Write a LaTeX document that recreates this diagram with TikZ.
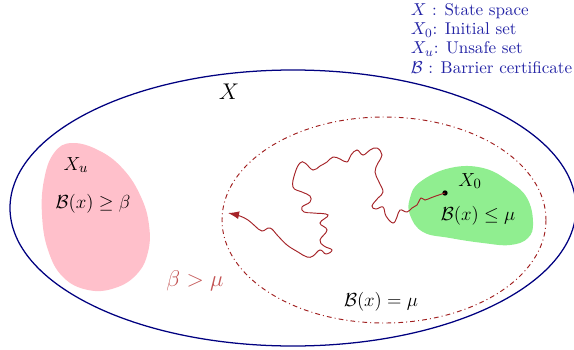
\documentclass[tikz,border=0pt]{standalone}
\usepackage{amsmath,amssymb}
\usepackage{xcolor}
\usepackage{tikz}
\usetikzlibrary{
  arrows.meta,
  positioning,
  calc
}
\definecolor{setblue}{RGB}{0,0,128}
\definecolor{legendblue}{RGB}{35,35,165}
\definecolor{levelred}{RGB}{160,30,30}
\definecolor{walkred}{RGB}{165,35,40}
\definecolor{unsafepink}{RGB}{255,192,203}
\definecolor{initgreen}{RGB}{144,238,144}
\definecolor{gapred}{RGB}{195,85,85}
\newcommand{\Bc}{\mathcal{B}}

\begin{document}
\begin{tikzpicture}[
  x=0.0223cm, y=-0.0223cm,
  lbl/.style   ={inner sep=1pt,font=\fontsize{13}{15}\selectfont},
  legend/.style={inner sep=1pt,anchor=west,text=legendblue,
                 font=\fontsize{10.8}{13}\selectfont},
  walk/.style  ={walkred,semithick,-{Latex[length=7pt,width=5pt]}},
]
\useasboundingbox (0,0) rectangle (574,349);

% sets
\fill[unsafepink] plot[smooth cycle,tension=0.7] coordinates
  {(72,143) (100,151) (124,170) (141,197) (149,225) (148,252) (137,274)
   (115,288) (88,290) (63,277) (48,250) (42,215) (44,180) (54,153)};
\fill[initgreen] plot[smooth cycle,tension=0.7] coordinates
  {(420,182) (450,168) (483,168) (510,182) (527,198) (533,222) (528,238)
   (510,245) (483,243) (450,238) (423,232) (410,215) (410,198)};
\draw[setblue,thick] (293,208) ellipse (283 and 138);
\draw[levelred,semithick,dash dot] (384,220) ellipse (162 and 103);

% labels
\node[lbl,font=\Large] (xlab)  at (229,92)  {$X$};
\node[lbl]             (xulab) at (76,165)  {$X_u$};
\node[lbl]             (unsafe)at (93,204)  {$\Bc(x)\geq\beta$};
\node[lbl,text=gapred,font=\fontsize{15}{17}\selectfont] (gap) at (195,281) {$\beta>\mu$};
\node[lbl]             (x0lab) at (470,181) {$X_0$};
\node[lbl]             (init)  at (478,216) {$\Bc(x)\leq\mu$};
\node[lbl]             (level) at (381,302) {$\Bc(x)=\mu$};

% legend
\node[legend] (leg1) at (409,11) {$X$ : State space};
\node[legend] (leg2) at (409,30) {$X_0$: Initial set};
\node[legend] (leg3) at (409,49) {$X_u$: Unsafe set};
\node[legend] (leg4) at (409,68) {$\Bc$ : Barrier certificate};

% trajectory
\node[circle,fill=black,inner sep=1.2pt] (start) at (445,193) {};
\coordinate (tip) at (228,213);
\draw[walk] (start.center) plot[smooth,tension=0.7] coordinates
  {(445,193) (433,197) (425,200) (421,198) (417,205) (412,208) (407,212)
   (400,210) (397,217)
   (393,223) (386,216) (383,207) (376,209) (372,206) (378,198) (383,192)
   (379,182) (375,172) (378,163) (382,155) (377,148) (370,150) (363,155)
   (357,150) (351,155) (347,162) (340,159) (333,157) (327,162) (320,166)
   (313,170) (305,163) (300,163) (295,173) (293,187) (302,192) (310,196)
   (310,202) (302,207) (304,212) (313,213) (328,215) (320,223) (327,230)
   (320,240) (324,246) (332,250) (326,254) (320,250) (313,256) (307,257)
   (298,252) (287,245) (278,236) (270,228) (262,231) (255,226) (248,220)
   (240,216) (233,214)} -- (tip);
\end{tikzpicture}
\end{document}
